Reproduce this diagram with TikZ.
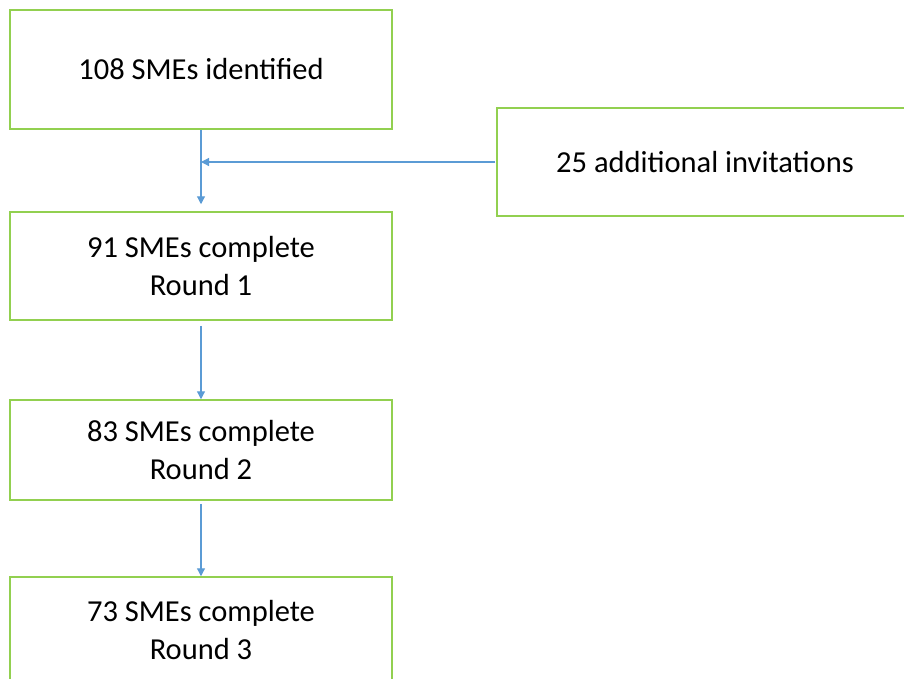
\documentclass[tikz,border=0pt]{standalone}
\usepackage{fontspec}
\setmainfont{Carlito}
\usetikzlibrary{arrows.meta, positioning}
\definecolor{boxgreen}{HTML}{92D050}
\definecolor{arrowblue}{HTML}{5B9BD5}

\tikzset{
    stagebox/.style={draw=boxgreen, line width=1.5pt, minimum width=382pt, align=center,
        font=\fontsize{30.5}{38}\selectfont, inner sep=0pt},
    flowarrow/.style={draw=arrowblue, line width=1.2pt, -{Triangle[width=8pt,length=8pt]}}
}

\begin{document}
\begin{tikzpicture}[x=1pt, y=-1pt]
            \useasboundingbox (0,0) rectangle (904,678);
            \clip (0,0) rectangle (904,678);
            % Boxes
            \node[stagebox, minimum height=119pt] (ident) at (201, 69.5) {108 SMEs identified};
            \node[stagebox, minimum width=416pt, minimum height=108pt] (extra) at (705, 162) {25 additional invitations};
            \node[stagebox, minimum height=108pt] (round1) at (201, 266) {91 SMEs complete\\Round 1};
            \node[stagebox, minimum height=100pt] (round2) at (201, 450) {83 SMEs complete\\Round 2};
            \node[stagebox, minimum height=106pt] (round3) at (201, 630) {73 SMEs complete\\Round 3};
            % Joints
            \coordinate (join) at (ident.south |- extra.west);
            % Arrows
            \draw[flowarrow, shorten >=7pt] (ident) -- (round1);
            \draw[flowarrow, shorten <=1pt] (extra.west) -- (join);
            \draw[flowarrow, shorten <=5pt] (round1) -- (round2);
            \draw[flowarrow, shorten <=3pt] (round2) -- (round3);
        \end{tikzpicture}
\end{document}
